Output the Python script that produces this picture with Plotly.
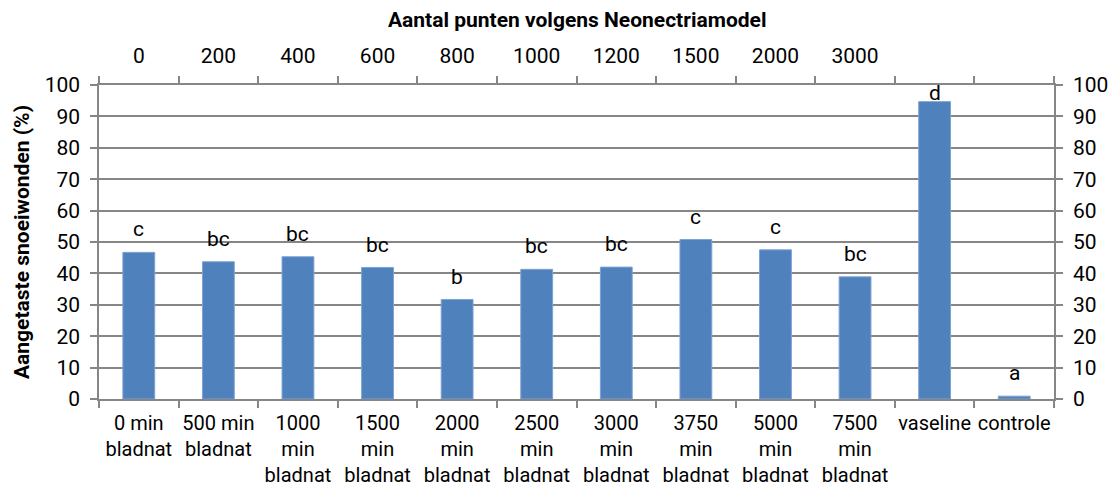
import plotly.graph_objects as go

categories = ["0 min<br>bladnat", "500 min<br>bladnat", "1000<br>min<br>bladnat",
              "1500<br>min<br>bladnat", "2000<br>min<br>bladnat", "2500<br>min<br>bladnat",
              "3000<br>min<br>bladnat", "3750<br>min<br>bladnat", "5000<br>min<br>bladnat",
              "7500<br>min<br>bladnat", "vaseline", "controle"]
values = [46.7, 43.7, 45.3, 41.9, 31.7, 41.3, 42.0, 50.8, 47.5, 38.9, 94.7, 0.9]
letters = ["c", "bc", "bc", "bc", "b", "bc", "bc", "c", "c", "bc", "d", "a"]
top_labels = ["0", "200", "400", "600", "800", "1000", "1200", "1500", "2000", "3000", " ", "  "]
y_ticks = [0, 10, 20, 30, 40, 50, 60, 70, 80, 90, 100]

FONT = "Roboto"
GREY = "#868686"
W, H = 1115, 491
L, R, T, B = 99, 61, 85, 92
pw, ph = W - L - R, H - T - B

fig = go.Figure()
fig.add_trace(go.Bar(x=categories, y=values, marker=dict(color="#4f81bd", line=dict(color="#7da2d4", width=1)),
                     width=0.4, showlegend=False, hoverinfo="y"))
fig.add_trace(go.Scatter(x=top_labels, y=[None] * len(top_labels), xaxis="x2", yaxis="y2",
                         mode="markers", showlegend=False, hoverinfo="skip"))

for c, v, t in zip(categories, values, letters):
    yl = min(v + 7.3, 97.6)
    fig.add_annotation(x=c, y=yl, text=t, showarrow=False, xref="x", yref="y",
                       yanchor="middle", font=dict(family=FONT, size=21, color="black"))

fig.add_annotation(text="<b>Aantal punten volgens Neonectriamodel</b>", xref="paper", yref="paper",
                   x=0.5, y=1 + (T - 20) / ph, xanchor="center", yanchor="middle", showarrow=False,
                   font=dict(family=FONT, size=21, color="black"))
fig.add_annotation(text="<b>Aangetaste snoeiwonden (%)</b>", xref="paper", yref="paper",
                   x=(22 - L) / pw, y=0.5, xanchor="center", yanchor="middle", textangle=-90,
                   showarrow=False, font=dict(family=FONT, size=21, color="black"))

axis_font = dict(family=FONT, size=21, color="black")
fig.update_layout(
    width=W, height=H,
    margin=dict(l=L, r=R, t=T, b=B, autoexpand=False),
    plot_bgcolor="white", paper_bgcolor="white",
    bargap=0.6,
    xaxis=dict(type="category", showline=True, linecolor=GREY, linewidth=1.5, ticks="outside",
               tickson="boundaries", ticklen=7, tickcolor=GREY, tickwidth=1.5,
               tickfont=dict(family=FONT, size=20, color="black"),
               showgrid=False, range=[-0.5, 11.5], tickangle=0, ticklabelstandoff=5),
    xaxis2=dict(type="category", overlaying="x", side="top", showline=True, linecolor=GREY, linewidth=1.5,
                ticks="outside", tickson="boundaries", ticklen=7, tickcolor=GREY, tickwidth=1.5,
                tickfont=axis_font, showgrid=False, range=[-0.5, 11.5], tickangle=0,
                categoryorder="array", categoryarray=top_labels, ticklabelstandoff=12),
    yaxis=dict(range=[0, 100], tickvals=y_ticks, showgrid=True, gridcolor=GREY, gridwidth=1.5,
               showline=True, linecolor=GREY, linewidth=1.5, ticks="outside", ticklen=7, tickcolor=GREY,
               tickwidth=1.5, tickfont=axis_font, zeroline=False, ticklabelstandoff=6),
    yaxis2=dict(range=[0, 100], tickvals=y_ticks, overlaying="y", side="right", showgrid=False,
                showline=True, linecolor=GREY, linewidth=1.5, ticks="outside", ticklen=7, tickcolor=GREY,
                tickwidth=1.5, tickfont=axis_font, zeroline=False, ticklabelstandoff=6),
)

fig.write_html("out.html", config={"displayModeBar": False},
               post_script="document.body.style.margin='0';document.body.style.overflow='hidden';")
